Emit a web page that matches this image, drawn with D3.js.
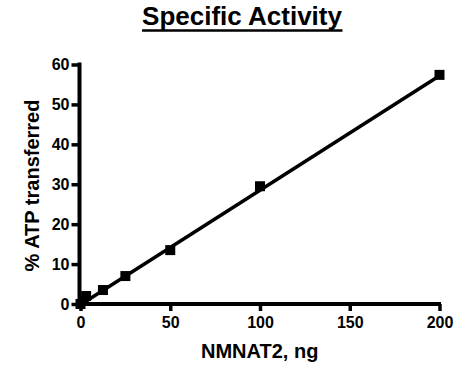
<!DOCTYPE html>
<html><head><meta charset="utf-8">
<script src="https://cdn.jsdelivr.net/npm/d3@7"></script>
<style>body{margin:0;background:#fff}text{font-family:"Liberation Sans",Arial,sans-serif;font-weight:bold}</style>
</head><body><svg id="c" width="467" height="368"></svg>
<script>
const doseNg = [0, 1.5625, 3.125, 12.5, 25, 50, 100, 200];
const pctATP = [0, 0.8, 2.0, 3.5, 7.0, 13.5, 29.5, 57.4];
const fitX = [0, 200];
const fitY = [-0.2, 57.2];
const xTicks = [0, 50, 100, 150, 200];
const yTicks = [0, 10, 20, 30, 40, 50, 60];

const svg = d3.select("#c");
const x = d3.scaleLinear().domain([0, 200]).range([80.5, 439.5]);
const y = d3.scaleLinear().domain([0, 60]).range([304, 64.5]);

const xAxis = svg.append("g").attr("transform", "translate(0,304)")
  .call(d3.axisBottom(x).tickValues(xTicks).tickSize(7).tickPadding(6).tickSizeOuter(0));
const yAxis = svg.append("g").attr("transform", "translate(79.5,0)")
  .call(d3.axisLeft(y).tickValues(yTicks).tickSize(8).tickPadding(2).tickSizeOuter(0));
[xAxis, yAxis].forEach(a => {
  a.select(".domain").attr("stroke", "#000").attr("stroke-width", 4);
  a.selectAll(".tick line").attr("stroke", "#000").attr("stroke-width", 3.5);
  a.selectAll(".tick text").attr("fill", "#000").style("font-size", "16px");
});
xAxis.select(".domain").attr("d", `M${x(0)-4},0H${x(200)+1.5}`);
yAxis.select(".domain").attr("d", `M0,${y(0)+4}V${y(60)-2}`);

svg.append("path")
  .datum(fitX.map((d, i) => [d, fitY[i]]))
  .attr("d", d3.line().x(d => x(d[0])).y(d => y(d[1])))
  .attr("stroke", "#000").attr("stroke-width", 3.5).attr("fill", "none");

svg.append("g").selectAll("rect").data(doseNg).join("rect")
  .attr("x", (d) => x(d) - 5).attr("y", (d, i) => y(pctATP[i]) - 5)
  .attr("width", 10).attr("height", 10).attr("fill", "#000");

const title = svg.append("text").attr("x", 242).attr("y", 25).attr("text-anchor", "middle")
  .style("font-size", "26px").text("Specific Activity");
const bb = title.node().getBBox();
svg.append("line").attr("x1", bb.x).attr("x2", bb.x + bb.width)
  .attr("y1", 30.5).attr("y2", 30.5).attr("stroke", "#000").attr("stroke-width", 2.5);
svg.append("text").attr("x", 259.7).attr("y", 358).attr("text-anchor", "middle")
  .style("font-size", "20px").text("NMNAT2, ng");
svg.append("text").attr("transform", "translate(39,185.5) rotate(-90)").attr("text-anchor", "middle")
  .style("font-size", "20px").text("% ATP transferred");
</script></body></html>
